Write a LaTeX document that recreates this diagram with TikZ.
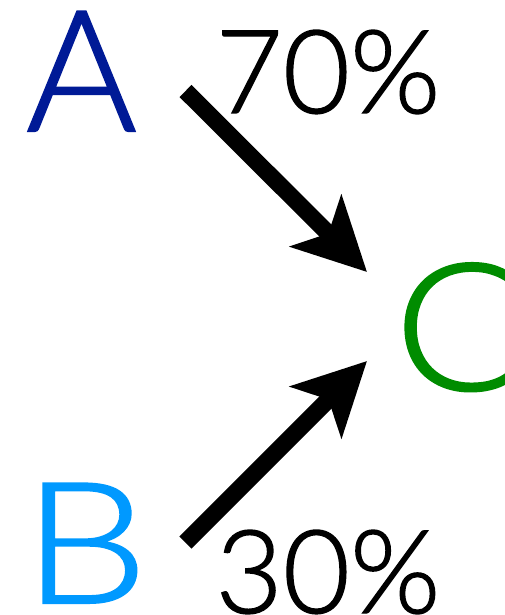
\documentclass[tikz,border=0pt]{standalone}
\usepackage{fontspec}
\setmainfont{Lato}[UprightFont={* Light}, FakeBold=1.2]
\usetikzlibrary{arrows.meta}
\definecolor{cA}{RGB}{0,26,150}
\definecolor{cB}{RGB}{0,153,255}
\definecolor{cC}{RGB}{0,140,0}
\tikzset{
  big/.style={inner sep=0pt, font=\fontsize{169}{169}\selectfont},
  pct/.style={inner sep=0pt, font=\fontsize{116}{116}\selectfont, text=black},
  fatarrow/.style={line width=17pt, -{Stealth[length=72pt, width=72pt, inset=17.5pt]}}
}
\begin{document}
\begin{tikzpicture}[x=1pt,y=-1pt]
\useasboundingbox (0,0) rectangle (504,615);
\node[big, text=cA, anchor=base] (A) at (81.5,131) {A};
\node[big, text=cB, anchor=base] (B) at (85.5,603) {\scalebox{1.17}[1]{B}};
\node[big, text=cC, anchor=base west] (C) at (394,390) {\scalebox{1.15}[1.05]{C}};
\node[pct, anchor=base] (p70) at (328,113) {70\%};
\node[pct, anchor=base] (p30) at (328,613) {30\%};
\coordinate (a1) at (185.5,91);
\coordinate (c1) at (367,272);
\coordinate (b1) at (185.5,542.5);
\coordinate (c2) at (367,361);
\draw[fatarrow] (a1) -- (c1);
\draw[fatarrow] (b1) -- (c2);
\end{tikzpicture}
\end{document}
